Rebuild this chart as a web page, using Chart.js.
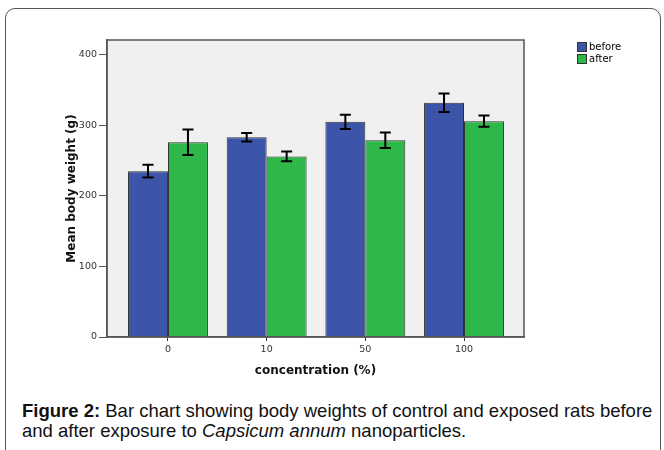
<!DOCTYPE html>
<html>
<head>
<meta charset="utf-8">
<script src="https://cdn.jsdelivr.net/npm/chart.js@4"></script>
<style>
    body { margin: 0; background: #fff; }
    #figura { position: relative; width: 664px; height: 450px; overflow: hidden; }
    #moldura { position: absolute; left: 5px; top: 8px; width: 654px; height: 500px;
        border: 1.5px solid #555; border-radius: 10px; }
    #grafico { position: absolute; left: 0; top: 0; width: 664px; height: 390px; }
    #legenda { position: absolute; left: 577px; top: 41px; font: 10px "DejaVu Sans", sans-serif; color: #000; }
    #legenda div { height: 11.5px; line-height: 11px; white-space: nowrap; }
    #legenda span { display: inline-block; width: 10px; height: 10px; border: 1px solid #333;
        vertical-align: -2px; margin-right: 2px; box-sizing: border-box; }
    #legendaFigura { position: absolute; left: 22px; top: 401px; margin: 0;
        font: 18.5px "Liberation Sans", Arial, sans-serif; line-height: 19.5px; color: #111; }
</style>
</head>
<body>
<div id="figura">
    <div id="moldura"></div>
    <div id="grafico"><canvas id="graficoPeso"></canvas></div>
    <div id="legenda"></div>
    <p id="legendaFigura"><b>Figure 2:</b> Bar chart showing body weights of control and exposed rats before<br>and after exposure to <i>Capsicum annum</i> nanoparticles.</p>
</div>
<script>
// Dados
const concentracoes = ['0', '10', '50', '100'];
const pesoAntes = [235, 283, 305, 332];
const pesoDepois = [276, 256, 279, 306];
const erroAntes = [9, 6, 10, 13];
const erroDepois = [18, 7, 11, 8];
const ticksY = [0, 100, 200, 300, 400];

const corAntes = '#3d55a9';
const corDepois = '#2fb84a';

// Legenda em HTML
const legenda = document.getElementById('legenda');
[['before', corAntes], ['after', corDepois]].forEach(([nome, cor]) => {
    const item = document.createElement('div');
    item.innerHTML = `<span style="background:${cor}"></span>${nome}`;
    legenda.appendChild(item);
});

// Fundo cinza e moldura da área do gráfico
const fundoPlot = {
    id: 'fundoPlot',
    beforeDraw(chart) {
        const { ctx, chartArea: a } = chart;
        ctx.save();
        ctx.fillStyle = '#f0f0f0';
        ctx.fillRect(a.left, a.top, a.right - a.left, a.bottom - a.top);
        ctx.restore();
    },
    afterDraw(chart) {
        const { ctx, chartArea: a } = chart;
        ctx.save();
        ctx.strokeStyle = '#555';
        ctx.lineWidth = 1.5;
        ctx.strokeRect(a.left, a.top, a.right - a.left, a.bottom - a.top);
        ctx.restore();
    }
};

// Barras de erro
const barrasErro = {
    id: 'barrasErro',
    afterDatasetsDraw(chart) {
        const { ctx } = chart;
        const y = chart.scales.y;
        ctx.save();
        ctx.strokeStyle = '#000';
        ctx.lineWidth = 2;
        chart.data.datasets.forEach((ds, i) => {
            const meta = chart.getDatasetMeta(i);
            meta.data.forEach((barra, j) => {
                const v = ds.data[j].y;
                const e = ds.erros[j];
                const topo = y.getPixelForValue(v + e);
                const base = y.getPixelForValue(v - e);
                const x = barra.x;
                ctx.beginPath();
                ctx.moveTo(x, topo); ctx.lineTo(x, base);
                ctx.moveTo(x - 5.5, topo); ctx.lineTo(x + 5.5, topo);
                ctx.moveTo(x - 5.5, base); ctx.lineTo(x + 5.5, base);
                ctx.stroke();
            });
        });
        ctx.restore();
    }
};

const ctx = document.getElementById('graficoPeso').getContext('2d');
new Chart(ctx, {
    type: 'bar',
    data: {
        datasets: [
            {
                label: 'before',
                data: pesoAntes.map((v, i) => ({ x: i, y: v })),
                erros: erroAntes,
                backgroundColor: corAntes,
                borderColor: '#333',
                borderWidth: 1
            },
            {
                label: 'after',
                data: pesoDepois.map((v, i) => ({ x: i, y: v })),
                erros: erroDepois,
                backgroundColor: corDepois,
                borderColor: '#333',
                borderWidth: 1
            }
        ]
    },
    options: {
        responsive: true,
        maintainAspectRatio: false,
        animation: false,
        categoryPercentage: 0.81,
        barPercentage: 1,
        layout: { padding: { left: 0, top: 40, right: 140, bottom: 8 } },
        plugins: {
            legend: { display: false },
            tooltip: { enabled: false }
        },
        scales: {
            x: {
                type: 'linear',
                offset: false,
                min: -0.618,
                max: 3.608,
                afterBuildTicks: (escala) => {
                    escala.ticks = concentracoes.map((c, i) => ({ value: i }));
                },
                afterFit: (escala) => { escala.height = 45; },
                ticks: {
                    callback: (v) => concentracoes[v],
                    color: '#333',
                    padding: 3,
                    font: { family: 'DejaVu Sans', size: 9.5 }
                },
                grid: { drawOnChartArea: false, offset: false, tickLength: 4, color: '#333' },
                border: { color: '#555', width: 1.5 },
                title: {
                    display: true,
                    text: 'concentration (%)',
                    color: '#111',
                    padding: { top: 6 },
                    font: { family: 'DejaVu Sans', size: 12, weight: 'bold' }
                }
            },
            y: {
                min: 0,
                max: 421,
                afterBuildTicks: (escala) => {
                    escala.ticks = ticksY.map(v => ({ value: v }));
                },
                afterFit: (escala) => { escala.width = 107; },
                ticks: {
                    color: '#333',
                    padding: 2,
                    font: { family: 'DejaVu Sans', size: 9.5 }
                },
                grid: { drawOnChartArea: false, tickLength: 8, color: '#555' },
                border: { color: '#555', width: 1.5 },
                title: {
                    display: true,
                    text: 'Mean body weight (g)',
                    color: '#111',
                    padding: { top: 65 },
                    font: { family: 'DejaVu Sans', size: 12, weight: 'bold' }
                }
            }
        }
    },
    plugins: [fundoPlot, barrasErro]
});
</script>
</body>
</html>
